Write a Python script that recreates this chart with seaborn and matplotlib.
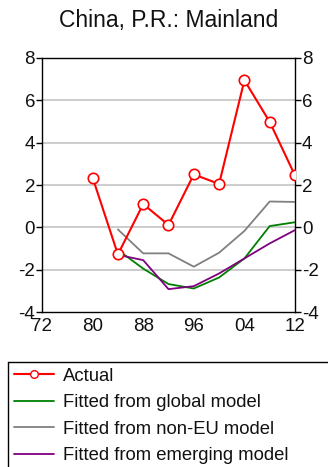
import matplotlib
matplotlib.use("Agg")
import matplotlib.pyplot as plt
from matplotlib.lines import Line2D
import seaborn as sns
import pandas as pd
import numpy as np

years = [1980, 1984, 1988, 1992, 1996, 2000, 2004, 2008, 2012]
actual = [2.35, -1.28, 1.1, 0.11, 2.5, 2.05, 6.95, 4.98, 2.45]
fit_years = [1984, 1988, 1992, 1996, 2000, 2004, 2008, 2012]
fit_global = [-1.07, -1.95, -2.68, -2.89, -2.37, -1.47, 0.06, 0.24]
fit_noneu = [-0.1, -1.23, -1.23, -1.86, -1.2, -0.17, 1.22, 1.2]
fit_emerging = [-1.3, -1.55, -2.92, -2.78, -2.18, -1.47, -0.76, -0.13]
x_ticks = [1972, 1980, 1988, 1996, 2004, 2012]
x_ticklabels = ["72", "80", "88", "96", "04", "12"]
y_ticks = [-4, -2, 0, 2, 4, 6, 8]

sns.set_theme(style="white")
plt.rcParams['font.family'] = ['Liberation Sans', 'DejaVu Sans']

fig = plt.figure(figsize=(3.28, 4.67), dpi=100)
ax = fig.add_axes([42/328, 1-312/467, (295-42)/328, (312-58)/467])

for y in [-2, 0, 2, 4, 6]:
    ax.axhline(y, color='#c8c8c8', lw=1.3, zorder=0)

df_a = pd.DataFrame({"year": years, "value": actual})
sns.lineplot(data=df_a, x="year", y="value", ax=ax, color='#ff0000', lw=1.5,
             marker='o', markersize=7.5, markerfacecolor='white',
             markeredgecolor='#ff0000', markeredgewidth=1.2, label='Actual', zorder=5)
series = [("Fitted from global model", fit_global, '#008000'),
          ("Fitted from non-EU model", fit_noneu, '#808080'),
          ("Fitted from emerging model", fit_emerging, '#800080')]
for name, vals, col in series:
    d = pd.DataFrame({"year": fit_years, "value": vals})
    sns.lineplot(data=d, x="year", y="value", ax=ax, color=col, lw=1.3, label=name, zorder=3)

ax.set_xlim(1972, 2012)
ax.set_ylim(-4, 8)
ax.set_xticks(x_ticks)
ax.set_xticklabels(x_ticklabels)
ax.set_xticks([1976, 1984, 1992, 2000, 2008], minor=True)
ax.set_yticks(y_ticks)
ax.set_yticklabels([str(v) for v in y_ticks])
ax.set_xlabel("")
ax.set_ylabel("")
for s in ax.spines.values():
    s.set_visible(True)
    s.set_color('black')
    s.set_linewidth(1.0)
ax.tick_params(axis='x', which='major', direction='in', length=4, width=1, colors='black',
               labelsize=13.5, pad=4, labelcolor='#111111')
ax.tick_params(axis='x', which='minor', direction='in', length=3, width=1, colors='black')
ax.tick_params(axis='y', which='major', direction='out', length=4, width=1, left=True, right=True,
               labelleft=True, labelright=True, labelsize=13.5, pad=1, colors='black', labelcolor='#111111')
fig.text((42 + 295) / 2 / 328, 1 - 20 / 467, "China, P.R.: Mainland", fontsize=16.5,
         ha='center', va='center', color='#111111')

# legend (frame drawn as open lines: it runs off the right and bottom edges)
leg_left = 8 / 328
leg_top = 1 - 362 / 467
handles, labels = ax.get_legend_handles_labels()
ax.get_legend().remove()
leg = fig.legend(handles, labels, loc='upper left',
                 bbox_to_anchor=(leg_left, leg_top),
                 frameon=False, fontsize=13.3,
                 handlelength=2.2, handletextpad=0.5, labelspacing=0.52,
                 borderpad=0.3, borderaxespad=0.0)
for t in leg.get_texts():
    t.set_color('#111111')
leg.legend_handles[0].set_markersize(5.5)
leg.legend_handles[0].set_markeredgewidth(1.0)
fig.add_artist(Line2D([leg_left, 1.2], [leg_top, leg_top], transform=fig.transFigure,
                      color='black', lw=1.0))
fig.add_artist(Line2D([leg_left, leg_left], [leg_top, -0.2], transform=fig.transFigure,
                      color='black', lw=1.0))

fig.savefig("out.png", dpi=100)
